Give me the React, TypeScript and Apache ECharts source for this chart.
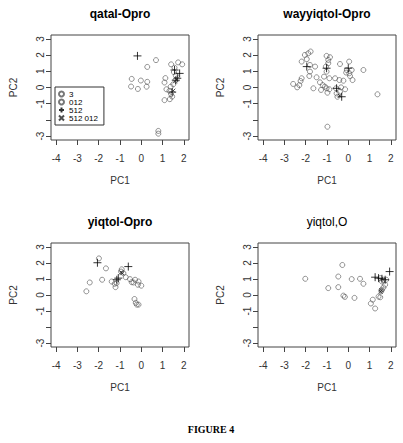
import React, { useEffect, useRef } from 'react';
import * as echarts from 'echarts';

const panelTitles = ['qatal-Opro', 'wayyiqtol-Opro', 'yiqtol-Opro', 'yiqtol,O'];
const legendNames = ['3', '012', '512', '512 012'];
const xTickValues = [-4, -3, -2, -1, 0, 1, 2];
const yTickValues = [-3, -2, -1, 0, 1, 2, 3];
const yLabelValues = [-3, -1, 0, 1, 2, 3];
const xName = 'PC1';
const yName = 'PC2';
const caption = 'FIGURE 4';

// Panel 1: qatal-Opro
const p1Small: number[][] = [];
const p1Circle = [
  [0.69, 1.69], [0.28, 1.27], [-0.45, 0.53], [-0.02, 0.43], [0.28, 0.35], [0.25, 0.05],
  [-0.48, 0.06], [-0.16, -0.09], [1.13, 0.58], [1.09, 0.31], [1.18, -0.11], [1.32, -0.21],
  [1.40, -0.41], [1.45, -0.56], [1.34, -0.72], [1.09, -0.78], [1.40, 1.43], [1.73, 1.55],
  [1.92, 1.43], [1.56, 1.22], [1.53, 0.95], [1.62, 0.75], [1.50, 0.20], [1.38, 0.05],
  [0.80, -2.68], [0.80, -2.85],
];
const p1Plus = [[-0.18, 1.95], [1.56, 1.08], [1.80, 0.87], [1.69, 0.57], [1.62, 0.45], [1.45, -0.28]];
const p1Cross = [[1.66, 0.50], [1.58, 0.38], [1.50, -0.20]];

// Panel 2: wayyiqtol-Opro
const p2Small: number[][] = [];
const p2Circle = [
  [-2.04, 2.01], [-1.88, 2.11], [-1.77, 2.22], [-2.19, 1.60], [-1.95, 1.75], [-1.80, 1.39],
  [-1.56, 1.29], [-1.80, 0.98], [-1.83, 0.71], [-2.59, 0.22], [-2.40, 0.01], [-2.30, 0.15],
  [-2.24, 0.40], [-2.19, 0.57], [-1.49, 0.63], [-1.64, -0.05], [-1.33, 0.32], [-1.28, -0.15],
  [-1.20, 0.15], [-1.10, 0.05], [-1.14, 0.67], [-1.02, 1.95], [-0.94, 1.70], [-0.86, 1.87],
  [-1.05, 1.29], [-1.02, 0.98], [-0.94, 1.50], [-0.89, 0.57], [-1.02, -0.05], [-0.98, -0.32],
  [-0.89, -0.11], [-0.98, -2.42], [-0.62, 0.57], [-0.39, 1.45], [-0.42, 0.46], [-0.23, 0.42],
  [-0.58, -0.05], [-0.55, -0.36], [-0.39, -0.26], [-0.34, 0.01], [-0.15, -0.11], [-0.51, -0.57],
  [0.04, 1.60], [-0.07, 1.08], [0.05, 0.88], [0.16, 1.08], [0.08, 0.71], [0.20, 0.46],
  [-0.10, 0.92], [0.71, 1.08], [1.37, -0.42],
];
const p2Plus = [[-1.95, 1.29], [-1.02, 1.19], [-0.55, -0.05], [-0.31, -0.57], [0.0, 1.19]];
const p2Cross = [[-0.40, -0.52]];

// Panel 3: yiqtol-Opro
const p3Small: number[][] = [];
const p3Circle = [
  [-1.99, 2.28], [-1.66, 1.66], [-2.42, 0.78], [-2.58, 0.23], [-1.84, 0.95], [-1.39, 0.84],
  [-1.21, 0.49], [-1.16, 0.74], [-0.95, 1.46], [-0.92, 1.60], [-0.84, 1.36], [-0.73, 1.11],
  [-0.53, 0.99], [-0.37, 0.78], [-0.29, 0.95], [-0.13, 0.84], [-0.16, 0.64], [0.0, 0.58],
  [-0.45, 0.80], [-1.25, 0.70], [-0.32, -0.25], [-0.26, -0.49], [-0.21, -0.60], [-0.13, -0.60],
];
const p3Plus = [[-2.06, 2.01], [-1.08, 1.05], [-1.15, 0.95], [-0.61, 1.77]];
const p3Cross = [[-0.89, 1.36], [-0.95, 1.40]];

// Panel 4: yiqtol,O
const p4Small: number[][] = [];
const p4Circle = [
  [-2.02, 1.01], [-0.94, 0.43], [-0.47, 0.49], [-0.47, 1.15], [-0.28, 1.87], [-0.23, -0.04],
  [-0.16, -0.12], [0.16, 0.99], [0.55, 1.01], [0.71, 0.70], [0.29, -0.18], [1.06, -0.53],
  [1.15, -0.29], [1.26, -0.84], [1.42, -0.10], [1.50, -0.14], [1.58, 0.33], [1.65, 0.47],
  [1.73, 0.64], [1.58, 0.84], [1.50, 1.05], [1.65, 0.95], [1.78, 0.95], [1.55, 0.25],
];
const p4Plus = [[1.26, 1.11], [1.42, 1.05], [1.58, 1.01], [1.73, 0.95], [1.94, 1.46]];
const p4Cross = [[1.55, 0.30], [1.52, 0.20]];

const panelData = [
  [p1Small, p1Circle, p1Plus, p1Cross],
  [p2Small, p2Circle, p2Plus, p2Cross],
  [p3Small, p3Circle, p3Plus, p3Cross],
  [p4Small, p4Circle, p4Plus, p4Cross],
];

const FONT = '"Liberation Sans", Arial, sans-serif';

export default function App() {
  const ref = useRef<HTMLDivElement>(null);
  useEffect(() => {
    if (!ref.current) return;
    const chart = echarts.init(ref.current, undefined, { renderer: 'svg' });

    const grids = [
      { left: 51, top: 35, width: 138, height: 105 },
      { left: 258, top: 35, width: 138, height: 105 },
      { left: 51, top: 243, width: 138, height: 104 },
      { left: 258, top: 243, width: 138, height: 104 },
    ];

    const symbols = [
      { symbol: 'circle', size: 3, color: '#555', width: 0.8 },
      { symbol: 'circle', size: 5, color: '#555', width: 0.8 },
      { symbol: 'path://M0,5L10,5M5,0L5,10', size: 8, color: '#000', width: 1 },
      { symbol: 'path://M0,0L10,10M10,0L0,10', size: 4, color: '#222', width: 1 },
    ];

    const series: any[] = [];
    panelData.forEach((groups, gi) => {
      groups.forEach((data, si) => {
        const s = symbols[si];
        series.push({
          type: 'scatter',
          name: legendNames[si],
          xAxisIndex: gi,
          yAxisIndex: gi,
          data,
          symbol: s.symbol,
          symbolSize: s.size,
          itemStyle: { color: 'transparent', borderColor: s.color, borderWidth: s.width },
          emphasis: { disabled: true },
        });
      });
    });

    const titleCenters = [
      [120, 14], [327, 14], [120, 222], [327, 222],
    ];

    const option: any = {
      animation: false,
      backgroundColor: '#fff',
      grid: grids.map((g) => ({ ...g, show: true, borderColor: '#444', borderWidth: 1, backgroundColor: 'transparent', containLabel: false })),
      xAxis: grids.map((_, i) => ({
        type: 'value',
        gridIndex: i,
        min: -4.24,
        max: 2.24,
        splitLine: { show: false },
        axisLine: { show: false, onZero: false },
        axisTick: { show: true, customValues: xTickValues, length: 5, lineStyle: { color: '#444' } },
        axisLabel: { customValues: xTickValues, fontSize: 10, fontFamily: FONT, color: '#333', margin: 13 },
        name: xName,
        nameLocation: 'middle',
        nameGap: 35,
        nameTextStyle: { fontSize: 10, fontFamily: FONT, color: '#333' },
      })),
      yAxis: grids.map((_, i) => ({
        type: 'value',
        gridIndex: i,
        min: -3.24,
        max: 3.24,
        splitLine: { show: false },
        axisLine: { show: false, onZero: false },
        axisTick: { show: true, customValues: yTickValues, length: 5, lineStyle: { color: '#444' } },
        axisLabel: { customValues: yLabelValues, rotate: 90, fontSize: 10, fontFamily: FONT, color: '#333', margin: 6 },
        name: yName,
        nameLocation: 'middle',
        nameGap: 33,
        nameTextStyle: { fontSize: 10, fontFamily: FONT, color: '#333' },
      })),
      legend: {
        data: legendNames,
        orient: 'vertical',
        left: 55,
        top: 87,
        padding: [3, 6, 3, 3],
        itemGap: 0,
        itemWidth: 5,
        itemHeight: 5,
        borderColor: '#333',
        borderWidth: 1,
        backgroundColor: '#fff',
        textStyle: { fontSize: 8, fontFamily: FONT, color: '#000', lineHeight: 8 },
        selectedMode: false,
      },
      graphic: [
        ...panelTitles.map((t, i) => ({
          type: 'text',
          x: titleCenters[i][0],
          y: titleCenters[i][1],
          style: {
            text: t,
            font: (i === 3 ? 'normal' : 'bold') + ' 12px ' + FONT,
            fill: '#000',
            textAlign: 'center',
            textVerticalAlign: 'middle',
          },
        })),
        {
          type: 'text',
          x: 211,
          y: 429,
          style: {
            text: caption,
            font: 'bold 10px "Liberation Serif", "Times New Roman", serif',
            fill: '#000',
            textAlign: 'center',
            textVerticalAlign: 'middle',
          },
        },
      ],
      series,
    };
    chart.setOption(option);
    return () => chart.dispose();
  }, []);
  return (
    <div
      ref={ref}
      style={{ position: 'absolute', left: 0, top: 0, width: 403, height: 443, background: '#fff' }}
    />
  );
}
